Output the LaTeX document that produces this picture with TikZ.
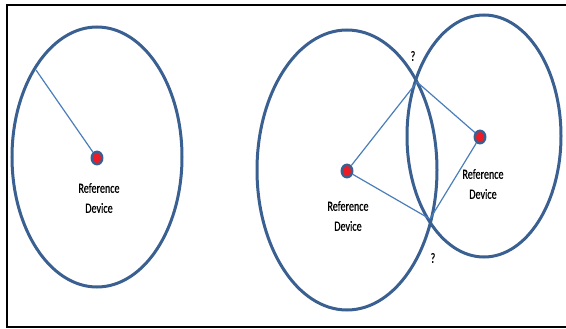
\documentclass[tikz,border=0pt]{standalone}
\usepackage{fontspec}
\setmainfont{Carlito}
\newfontfamily\narrowfont[FakeStretch=0.72,FakeBold=0.6]{Carlito}
\usepackage{tikz}
\usetikzlibrary{shapes.geometric}

\definecolor{ringblue}{HTML}{3A6091}
\definecolor{lineblue}{HTML}{4A7EBB}
\definecolor{devred}{HTML}{ED1C24}

\begin{document}
\begin{tikzpicture}[
  x=1pt, y=-1pt,
  ring/.style={draw=ringblue, line width=3pt},
  dev/.style={ellipse, draw=ringblue, fill=devred, line width=2.4pt, minimum width=10.5pt, minimum height=12.5pt, inner sep=0pt},
  devlabel/.style={align=center, font=\narrowfont\fontsize{14}{20}\selectfont},
  ray/.style={draw=lineblue, line width=1.2pt},
  qmark/.style={font=\narrowfont\fontsize{14}{16}\selectfont},
]
  \useasboundingbox (0,0) rectangle (566,329);
  \draw[line width=1.6pt] (572,5) -- (7,5) -- (7,327) -- (572,327);

  % three ranges
  \draw[ring] (97,157) ellipse [x radius=85, y radius=130];
  \draw[ring] (347,170) ellipse [x radius=90, y radius=140];
  \draw[ring] (484,136) ellipse [x radius=77, y radius=121];

  \node[dev] (dleft) at (97,158) {};
  \node[dev] (dmid) at (347,171) {};
  \node[dev] (dright) at (480,137) {};

  % points on the rings
  \coordinate (edge) at (36,70);
  \coordinate (top) at (417,82);
  \coordinate (bot) at (430,219);

  \draw[ray] (edge) -- (dleft);
  \draw[ray] (top) -- (dmid);
  \draw[ray] (bot) -- (dmid);
  \draw[ray] (top) -- (dright);
  \draw[ray] (bot) -- (dright);

  \node[devlabel] (lleft) at (99,198) {Reference\\Device};
  \node[devlabel] (lmid) at (348,216) {Reference\\Device};
  \node[devlabel] (lright) at (483,184) {Reference\\Device};

  \node[qmark] (qtop) at (413,56) {?};
  \node[qmark] (qbot) at (433,258) {?};
\end{tikzpicture}
\end{document}
